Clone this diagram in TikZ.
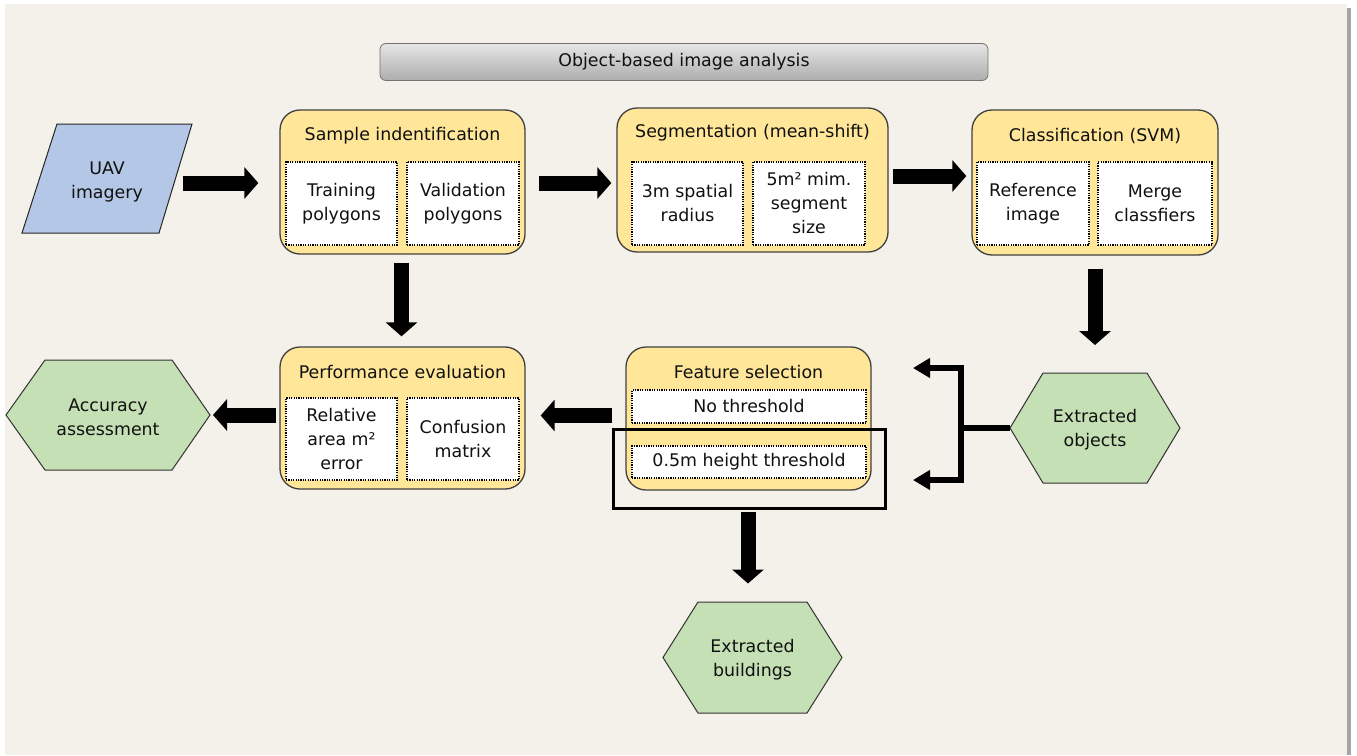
\documentclass[tikz,border=0pt]{standalone}
\usepackage{fontspec}
\setmainfont{DejaVu Sans}
\usetikzlibrary{arrows.meta,calc}
\definecolor{bg}{HTML}{F4F0EA}
\definecolor{yel}{HTML}{FFE699}
\definecolor{grn}{HTML}{C5E0B4}
\definecolor{blu}{HTML}{B4C7E7}
\definecolor{txt}{HTML}{111111}
\begin{document}
\begin{tikzpicture}[x=1pt,y=-1pt,
  every node/.style={font=\fontsize{17.4}{24}\selectfont, text=txt, align=center, inner sep=0pt},
  stage/.style={draw=black!75, line width=1.3pt, fill=yel, rounded corners=20pt},
  innerbox/.style={draw=black, line width=1.2pt, dash pattern=on 1.2pt off 1.2pt, fill=white},
  hexs/.style={draw=black!80, line width=1pt, fill=grn},
  barrow/.style={draw=black, line width=15pt, -{Triangle[length=14pt,width=31pt]}},
  bline/.style={draw=black, line width=5.5pt}
]
\useasboundingbox (0,0) rectangle (1357,755);
% background
\fill[bg] (5,4) rectangle (1347,755);
\fill[black!35] (1347,8) rectangle (1351,755);

% title bar
\node[draw=black!55, line width=0.8pt, rounded corners=6pt, top color=black!10, bottom color=black!32,
      minimum width=608, minimum height=37] (ttl) at (684,62) {Object-based image analysis};

% UAV parallelogram
\coordinate (uavc) at (107,178.5);
\draw[draw=black!85, line width=1pt, fill=blu] (uavc) +(-50,-54.5) -- +(85,-54.5) -- +(52,54.5) -- +(-85,54.5) -- cycle;
\node[minimum width=170, minimum height=109, yshift=-3pt] (uav) at (uavc) {UAV\\imagery};

% Sample identification
\node[stage, minimum width=245, minimum height=144] (samp) at (402.5,182) {};
\node (sampt) at (402.5,136) {Sample indentification};
\node[innerbox, minimum width=111, minimum height=83] (train) at (341.5,203.5) {Training\\polygons};
\node[innerbox, minimum width=112, minimum height=83] (valid) at (463,203.5) {Validation\\polygons};

% Segmentation
\node[stage, minimum width=271, minimum height=144] (seg) at (752.5,180) {};
\node (segt) at (752.5,133) {Segmentation (mean-shift)};
\node[innerbox, minimum width=111, minimum height=83] (rad) at (687.5,203.5) {3m spatial\\radius};
\node[innerbox, minimum width=112, minimum height=83] (msize) at (809,203.5) {5m² mim.\\segment\\size};

% Classification
\node[stage, minimum width=246, minimum height=145] (cls) at (1095,182.5) {};
\node (clst) at (1095,136) {Classification (SVM)};
\node[innerbox, minimum width=112, minimum height=83] (ref) at (1033,203.5) {Reference\\image};
\node[innerbox, minimum width=114, minimum height=83] (merge) at (1155,203.5) {Merge\\classfiers};

% Performance evaluation
\node[stage, minimum width=245, minimum height=142] (perf) at (402.5,418) {};
\node (perft) at (402.5,372) {Performance evaluation};
\node[innerbox, minimum width=111, minimum height=82] (rel) at (341.5,439) {Relative\\area m²\\error};
\node[innerbox, minimum width=112, minimum height=82] (conf) at (463,439) {Confusion\\matrix};

% Feature selection
\node[stage, minimum width=245, minimum height=143] (feat) at (748.5,418.5) {};
\node (featt) at (748.5,372) {Feature selection};
\node[innerbox, minimum width=234, minimum height=33] (nothr) at (749,406.5) {No threshold};
\node[innerbox, minimum width=234, minimum height=32] (hthr) at (749,462) {0.5m height threshold};
\node[draw=black, line width=3pt, minimum width=272, minimum height=79] (frame) at (749,468.5) {};

% Accuracy assessment hexagon
\coordinate (accc) at (108,415);
\draw[hexs] (accc) +(-102,0) -- +(-63,-55) -- +(64,-55) -- +(102,0) -- +(64,55) -- +(-63,55) -- cycle;
\node[minimum width=204, minimum height=110, yshift=-2pt] (acc) at (accc) {Accuracy\\assessment};

% Extracted objects hexagon
\coordinate (objc) at (1095,428);
\draw[hexs] (objc) +(-85,0) -- +(-52,-55) -- +(52,-55) -- +(85,0) -- +(52,55) -- +(-52,55) -- cycle;
\node[minimum width=170, minimum height=110, yshift=-2pt] (obj) at (objc) {Extracted\\objects};

% Extracted buildings hexagon
\coordinate (bldc) at (752.5,657.5);
\draw[hexs] (bldc) +(-89.5,0) -- +(-54.5,-55.5) -- +(54.5,-55.5) -- +(89.5,0) -- +(54.5,55.5) -- +(-54.5,55.5) -- cycle;
\node[minimum width=179, minimum height=111, yshift=-2pt] (bld) at (bldc) {Extracted\\buildings};

% block arrows
\draw[barrow] ($(uav.east |- samp.west)+(-9,1)$) -- ($(samp.west)+(-21,1)$);
\draw[barrow] ($(samp.east)+(13,1)$) -- ($(seg.west |- samp.east)+(-5,1)$);
\draw[barrow] ($(seg.east)+(4,-4)$) -- ($(cls.west |- seg.east)+(-5,-4)$);
\draw[barrow] ($(samp.south)+(-1,8)$) -- ($(perf.north)+(-1,-10)$);
\draw[barrow] ($(cls.south)+(0,13)$) -- ($(objc)+(0,-83)$);
\draw[barrow] ($(feat.west)+(-13,-3)$) -- ($(perf.east |- feat.west)+(15,-3)$);
\draw[barrow] ($(perf.west)+(-3,-3)$) -- ($(accc)+(105,0)$);
\draw[barrow] ($(frame.south)+(-1,2)$) -- ($(frame.south |- bldc)+(-1,-74)$);

% bracket from extracted objects
\coordinate (bj) at (961,428);
\coordinate (bt) at (913,368);
\coordinate (bb) at (913,480);
\draw[bline] ($(objc)+(-85,0)$) -- (bj);
\draw[bline, line join=miter, {Triangle[length=17pt,width=19pt]}-{Triangle[length=17pt,width=19pt]}] (bt) -| (bj) |- (bb);
\end{tikzpicture}
\end{document}
